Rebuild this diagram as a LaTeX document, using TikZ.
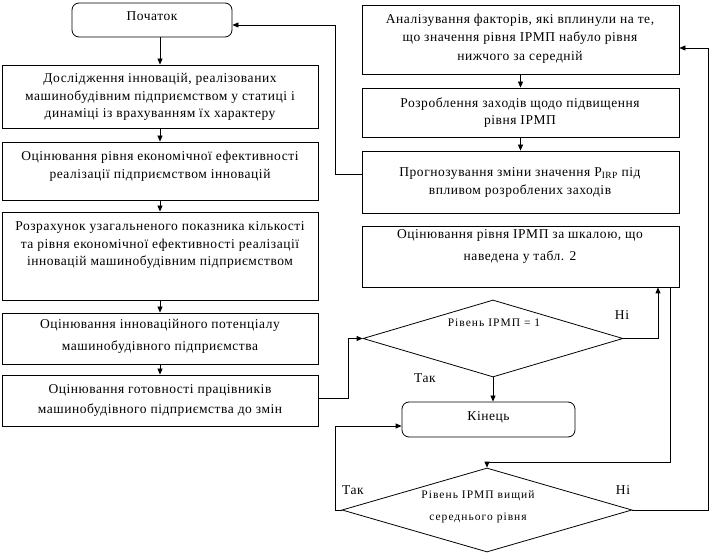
\documentclass[tikz,border=0pt]{standalone}
\usepackage{fontspec}
\setmainfont{Liberation Serif}
\newfontfamily\tnr[LetterSpace=4]{Liberation Serif}
\newfontfamily\tnrs[LetterSpace=9]{Liberation Serif}
\usetikzlibrary{shapes.geometric,arrows.meta}
\begin{document}
\begin{tikzpicture}[x=1pt,y=-1pt,
  every node/.style={inner sep=0pt},
  box/.style={draw,line width=0.8pt,minimum width=316pt},
  rbox/.style={draw,line width=0.8pt,minimum width=317pt},
  term/.style={draw,line width=0.8pt,rounded corners=7pt},
  dec/.style={draw,diamond,line width=0.8pt,aspect=3.4},
  txt/.style={align=center,font=\tnr\fontsize{13.5}{17.5}\selectfont},
  small/.style={align=center,font=\tnrs\fontsize{11.5}{22}\selectfont},
  lbl/.style={font=\tnr\fontsize{13.5}{15}\selectfont},
  arr/.style={line width=0.8pt,-{Triangle[length=6pt,width=5pt]}}
]
\useasboundingbox (0,0) rectangle (710,553);

% left column
\node[term,minimum width=160pt,minimum height=34pt] (start) at (152,20) {};
\node[txt] (startT) at (152,16) {Початок};

\node[box,minimum height=63pt] (b1) at (160,96.5) {};
\node[txt] (b1t) at (160,97) {Дослідження інновацій, реалізованих\\машинобудівним підприємством у статиці і\\динаміці із врахуванням їх характеру};

\node[box,minimum height=58pt] (b2) at (160,171) {};
\node[txt] (b2t) at (160,166.5) {Оцінювання рівня економічної ефективності\\реалізації підприємством інновацій};

\node[box,minimum height=88pt] (b3) at (160,256) {};
\node[txt] (b3t) at (160,245) {Розрахунок узагальненого показника кількості\\та рівня економічної ефективності реалізації\\інновацій машинобудівним підприємством};

\node[box,minimum height=51pt] (b4) at (160,338.5) {};
\node[txt,font=\tnr\fontsize{13.5}{22}\selectfont] (b4t) at (160,336) {Оцінювання інноваційного потенціалу\\машинобудівного підприємства};

\node[box,minimum height=51pt] (b5) at (160,400.5) {};
\node[txt,font=\tnr\fontsize{13.5}{20}\selectfont] (b5t) at (160,400) {Оцінювання готовності працівників\\машинобудівного підприємства до змін};

% right column
\node[rbox,minimum height=69pt] (A) at (520.5,39.5) {};
\node[txt,font=\tnr\fontsize{13.5}{18.5}\selectfont] (At) at (520,38.5) {Аналізування факторів, які вплинули на те,\\що значення рівня ІРМП набуло рівня\\нижчого за середній};

\node[rbox,minimum height=49pt] (B) at (520.5,112.5) {};
\node[txt] (Bt) at (520,112.5) {Розроблення заходів щодо підвищення\\рівня ІРМП};

\node[rbox,minimum height=62pt] (C) at (520.5,182) {};
\node[txt] (Ct) at (520,182.5) {Прогнозування зміни значення P\textsubscript{IRP} під\\впливом розроблених заходів};

\node[rbox,minimum height=61pt] (D) at (520.5,256.5) {};
\node[txt,font=\tnr\fontsize{13.5}{22}\selectfont] (Dt) at (520,246) {Оцінювання рівня ІРМП за шкалою, що\\наведена у табл. 2};

\node[dec,minimum width=260pt,minimum height=77pt] (d1) at (493,338.5) {};
\node[small] (d1t) at (494,323) {Рівень ІРМП = 1};

\node[term,minimum width=173pt,minimum height=35pt] (end) at (488.5,419.5) {};
\node[txt] (endt) at (488.5,417) {Кінець};

\node[dec,minimum width=290pt,minimum height=84pt] (d2) at (487,510) {};
\node[small] (d2t) at (478,506.5) {Рівень ІРМП вищий\\середнього рівня};

% labels
\node[lbl] (l1) at (622,315) {Ні};
\node[lbl] (l2) at (425,378) {Так};
\node[lbl] (l3) at (353,490) {Так};
\node[lbl] (l4) at (623,490) {Ні};

% connectors
\draw[arr] (b1.north |- start.south) -- (b1.north);
\draw[arr] (b1) -- (b2);
\draw[arr] (b2) -- (b3);
\draw[arr] (b3) -- (b4);
\draw[arr] (b4) -- (b5);
\draw[arr] (A) -- (B);
\draw[arr] (B) -- (C);

\coordinate (f1) at (335,174);
\coordinate (f2) at (335,25);
\draw[arr] (C.west |- f1) -- (f1) -- (f2) -- (start.east |- f2);

\coordinate (g1) at (348,398);
\draw[arr] (b5.east |- g1) -- (g1) |- (d1.west);

\coordinate (h1) at (658,338.5);
\draw[arr] (d1.east) -- (h1) -- (D.south -| h1);

\draw[arr] (d1.south) -- (d1.south |- end.north);

\coordinate (k1) at (670,462);
\draw[arr] (D.south -| k1) -- (k1) -| (d2.north);

\coordinate (m1) at (335,426);
\draw[arr] (d2.west) -| (m1) -- (end.west |- m1);

\coordinate (n1) at (708,48);
\draw[arr] (d2.east) -| (n1) -- (A.east |- n1);
\end{tikzpicture}
\end{document}
